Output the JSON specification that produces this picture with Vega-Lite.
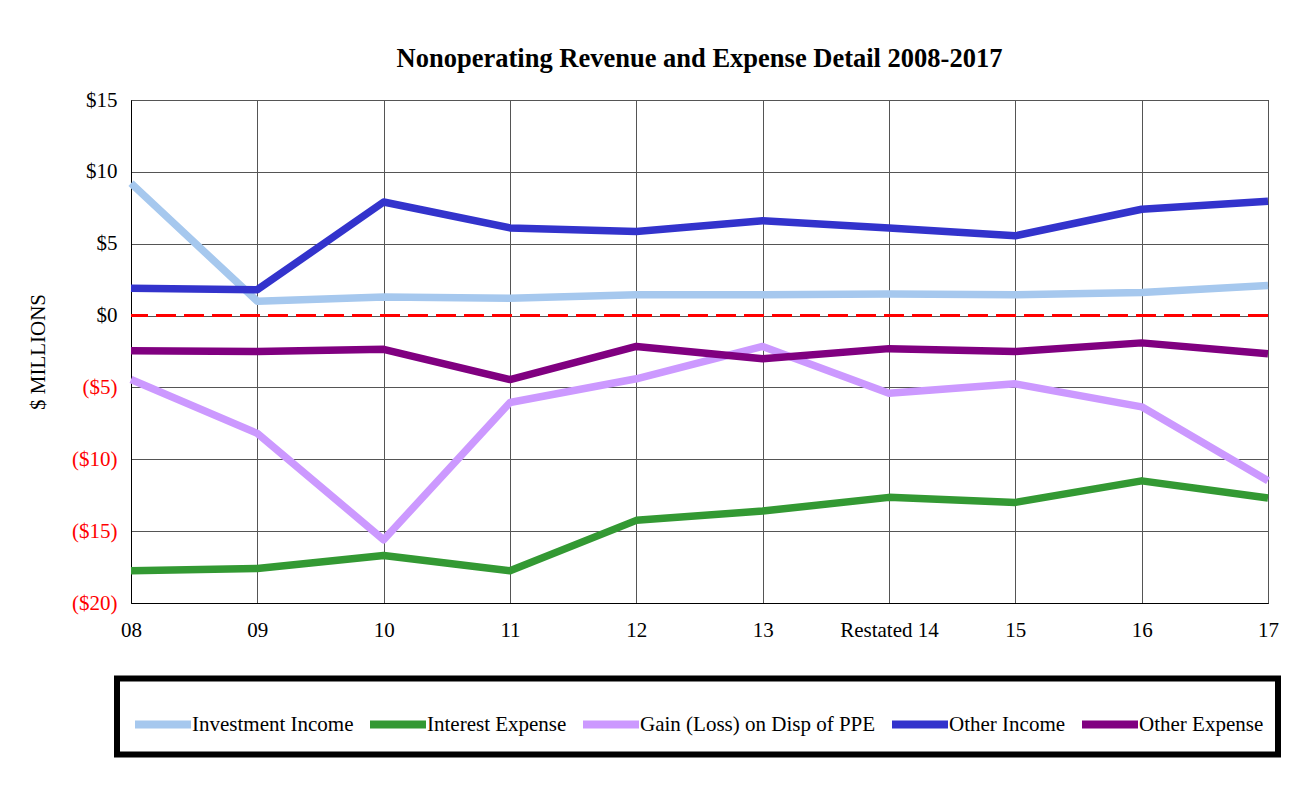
{
  "$schema": "https://vega.github.io/schema/vega-lite/v6.json",
  "width": 1137,
  "height": 503,
  "autosize": "none",
  "padding": {"left": 131, "top": 100, "right": 46, "bottom": 184},
  "background": "white",
  "title": {
    "text": "Nonoperating Revenue and Expense Detail 2008-2017",
    "font": "Liberation Serif",
    "fontSize": 26.5,
    "fontWeight": "bold",
    "color": "black",
    "anchor": "middle",
    "offset": 17
  },
  "config": {
    "view": {"stroke": "black", "strokeWidth": 1},
    "axis": {
      "labelFont": "Liberation Serif",
      "labelFontSize": 21,
      "labelColor": "black",
      "titleFont": "Liberation Serif",
      "titleFontSize": 21,
      "titleFontWeight": "normal",
      "titleColor": "black",
      "ticks": false,
      "domainColor": "black",
      "gridColor": "#555555",
      "gridWidth": 1,
      "gridOpacity": 1
    },
    "legend": {
      "labelFont": "Liberation Serif",
      "labelFontSize": 21,
      "labelColor": "black",
      "labelLimit": 500,
      "strokeColor": "black",
      "strokeWidth": 6
    }
  },
  "datasets": {
    "series": [
      {"year": "08", "series": "Investment Income", "value": 9.2},
      {"year": "09", "series": "Investment Income", "value": 1.0},
      {"year": "10", "series": "Investment Income", "value": 1.3},
      {"year": "11", "series": "Investment Income", "value": 1.2},
      {"year": "12", "series": "Investment Income", "value": 1.45},
      {"year": "13", "series": "Investment Income", "value": 1.45},
      {"year": "Restated 14", "series": "Investment Income", "value": 1.5},
      {"year": "15", "series": "Investment Income", "value": 1.45},
      {"year": "16", "series": "Investment Income", "value": 1.6},
      {"year": "17", "series": "Investment Income", "value": 2.1},
      {"year": "08", "series": "Interest Expense", "value": -17.75},
      {"year": "09", "series": "Interest Expense", "value": -17.6},
      {"year": "10", "series": "Interest Expense", "value": -16.7},
      {"year": "11", "series": "Interest Expense", "value": -17.75},
      {"year": "12", "series": "Interest Expense", "value": -14.25},
      {"year": "13", "series": "Interest Expense", "value": -13.6},
      {"year": "Restated 14", "series": "Interest Expense", "value": -12.65},
      {"year": "15", "series": "Interest Expense", "value": -13.0},
      {"year": "16", "series": "Interest Expense", "value": -11.5},
      {"year": "17", "series": "Interest Expense", "value": -12.7},
      {"year": "08", "series": "Gain (Loss) on Disp of PPE", "value": -4.45},
      {"year": "09", "series": "Gain (Loss) on Disp of PPE", "value": -8.2},
      {"year": "10", "series": "Gain (Loss) on Disp of PPE", "value": -15.6},
      {"year": "11", "series": "Gain (Loss) on Disp of PPE", "value": -6.05},
      {"year": "12", "series": "Gain (Loss) on Disp of PPE", "value": -4.4},
      {"year": "13", "series": "Gain (Loss) on Disp of PPE", "value": -2.15},
      {"year": "Restated 14", "series": "Gain (Loss) on Disp of PPE", "value": -5.4},
      {"year": "15", "series": "Gain (Loss) on Disp of PPE", "value": -4.75},
      {"year": "16", "series": "Gain (Loss) on Disp of PPE", "value": -6.35},
      {"year": "17", "series": "Gain (Loss) on Disp of PPE", "value": -11.5},
      {"year": "08", "series": "Other Income", "value": 1.9},
      {"year": "09", "series": "Other Income", "value": 1.8},
      {"year": "10", "series": "Other Income", "value": 7.9},
      {"year": "11", "series": "Other Income", "value": 6.1},
      {"year": "12", "series": "Other Income", "value": 5.85},
      {"year": "13", "series": "Other Income", "value": 6.6},
      {"year": "Restated 14", "series": "Other Income", "value": 6.1},
      {"year": "15", "series": "Other Income", "value": 5.55},
      {"year": "16", "series": "Other Income", "value": 7.4},
      {"year": "17", "series": "Other Income", "value": 7.95},
      {"year": "08", "series": "Other Expense", "value": -2.45},
      {"year": "09", "series": "Other Expense", "value": -2.5},
      {"year": "10", "series": "Other Expense", "value": -2.35},
      {"year": "11", "series": "Other Expense", "value": -4.45},
      {"year": "12", "series": "Other Expense", "value": -2.15},
      {"year": "13", "series": "Other Expense", "value": -3.0},
      {"year": "Restated 14", "series": "Other Expense", "value": -2.3},
      {"year": "15", "series": "Other Expense", "value": -2.5},
      {"year": "16", "series": "Other Expense", "value": -1.9},
      {"year": "17", "series": "Other Expense", "value": -2.65}
    ]
  },
  "layer": [
    {
      "data": {"name": "series"},
      "mark": {"type": "line", "strokeWidth": 7.5, "strokeJoin": "round", "strokeCap": "butt"},
      "encoding": {
        "x": {
          "field": "year",
          "type": "ordinal",
          "sort": ["08", "09", "10", "11", "12", "13", "Restated 14", "15", "16", "17"],
          "scale": {"type": "point", "padding": 0},
          "axis": {"title": null, "labelAngle": 0, "labelPadding": 16, "grid": true}
        },
        "y": {
          "field": "value",
          "type": "quantitative",
          "scale": {"domain": [-20, 15], "nice": false, "zero": false},
          "axis": {
            "title": "$ MILLIONS",
            "titlePadding": 23,
            "values": [-20, -15, -10, -5, 0, 5, 10, 15],
            "labelPadding": 14,
            "labelExpr": "datum.value < 0 ? '($' + abs(datum.value) + ')' : '$' + datum.value",
            "labelColor": {"condition": {"test": "datum.value < 0", "value": "red"}, "value": "black"},
            "grid": true
          }
        },
        "color": {
          "field": "series",
          "type": "nominal",
          "sort": ["Investment Income", "Interest Expense", "Gain (Loss) on Disp of PPE", "Other Income", "Other Expense"],
          "scale": {
            "domain": ["Investment Income", "Interest Expense", "Gain (Loss) on Disp of PPE", "Other Income", "Other Expense"],
            "range": ["#a6c8ee", "#339933", "#cc99ff", "#3333cc", "#800080"]
          },
          "legend": {
            "title": null,
            "orient": "none",
            "direction": "horizontal",
            "legendX": -14,
            "legendY": 578.5,
            "symbolType": "stroke",
            "symbolSize": 3136,
            "symbolStrokeWidth": 8,
            "labelOffset": -3,
            "columnPadding": 0,
            "padding": 14,
            "fillColor": "white"
          }
        }
      }
    },
    {
      "data": {"values": [{}]},
      "mark": {"type": "rule", "color": "#ff0000", "strokeWidth": 3, "strokeDash": [20, 8]},
      "encoding": {"y": {"datum": 0, "type": "quantitative"}}
    }
  ]
}
